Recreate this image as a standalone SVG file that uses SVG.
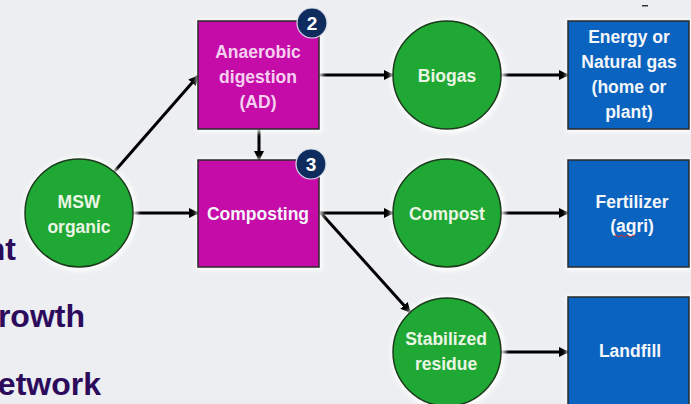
<svg xmlns="http://www.w3.org/2000/svg" width="691" height="404" viewBox="0 0 691 404">
<defs>
<marker id="ah" markerWidth="10" markerHeight="10" refX="9" refY="5" orient="auto" markerUnits="userSpaceOnUse">
<path d="M0,0 L10,5 L0,10 z" fill="#000"/>
</marker>
<filter id="glow" x="-20%" y="-20%" width="140%" height="140%">
<feGaussianBlur stdDeviation="2"/>
</filter>
</defs>
<style>
.halo{fill:#ffffff;stroke:#ffffff;stroke-width:5;opacity:0.85}
.box{stroke:#2a2a2a;stroke-width:1.5}
.mag{fill:#c50ca8}
.blue{fill:#0a63bf}
.green{fill:#1fa834;stroke:#1d3a1d;stroke-width:1.5}
.t{font-family:"Liberation Sans",Arial,sans-serif;font-weight:bold;font-size:17.5px;text-anchor:middle}
.wt{fill:#f4f6fa}
.pt{fill:#f6d0f0}
.gt{fill:#eaf5e4}
.badge{fill:#0f2c5e;stroke:#d8dce8;stroke-width:1.2}
.bt{font-family:"Liberation Sans",Arial,sans-serif;font-weight:bold;font-size:19px;fill:#ffffff;text-anchor:middle}
.side{font-family:"Liberation Sans",Arial,sans-serif;font-weight:bold;font-size:32px;fill:#2c0b5c;text-anchor:end}
.conn{stroke:#000;stroke-width:3;fill:none}
</style>
<rect width="691" height="404" fill="#eceef1"/>
<text class="side" x="16" y="260">nt</text>
<text class="side" x="85" y="327">rowth</text>
<text class="side" x="101" y="395">etwork</text>
<rect x="642" y="5" width="6" height="1.5" fill="#333"/>
<g id="connectors">
<line class="conn" x1="114" y1="172" x2="198" y2="76" marker-end="url(#ah)"/>
<line class="conn" x1="133" y1="213" x2="198" y2="213" marker-end="url(#ah)"/>
<line class="conn" x1="259" y1="129" x2="259" y2="160" marker-end="url(#ah)"/>
<line class="conn" x1="319" y1="75" x2="393" y2="75" marker-end="url(#ah)"/>
<line class="conn" x1="501" y1="75" x2="568" y2="75" marker-end="url(#ah)"/>
<line class="conn" x1="319" y1="213" x2="393" y2="213" marker-end="url(#ah)"/>
<line class="conn" x1="501" y1="213" x2="568" y2="213" marker-end="url(#ah)"/>
<line class="conn" x1="320" y1="212" x2="410" y2="312" marker-end="url(#ah)"/>
<line class="conn" x1="501" y1="352" x2="568" y2="352" marker-end="url(#ah)"/>
</g>
<g id="msw">
<circle class="halo" cx="80" cy="214" r="55" filter="url(#glow)"/>
<circle class="green" cx="79" cy="213" r="54"/>
<text class="t gt" x="79" y="208">MSW</text>
<text class="t gt" x="79" y="233">organic</text>
</g>
<g id="ad">
<rect class="halo" x="199" y="22" width="121" height="108" filter="url(#glow)"/>
<rect class="box mag" x="198" y="21" width="121" height="108"/>
<text class="t pt" x="258" y="58" font-size="18">Anaerobic</text>
<text class="t pt" x="258" y="83">digestion</text>
<text class="t pt" x="258" y="108">(AD)</text>
<circle class="badge" cx="312" cy="23" r="15"/>
<text class="bt" x="312" y="30">2</text>
</g>
<g id="composting">
<rect class="halo" x="199" y="161" width="121" height="107" filter="url(#glow)"/>
<rect class="box mag" x="198" y="160" width="121" height="107"/>
<text class="t wt" x="258" y="220">Composting</text>
<circle class="badge" cx="311" cy="164" r="15"/>
<text class="bt" x="311" y="171">3</text>
</g>
<g id="biogas">
<circle class="halo" cx="448" cy="76" r="55" filter="url(#glow)"/>
<circle class="green" cx="447" cy="75" r="54"/>
<text class="t gt" x="447" y="82">Biogas</text>
</g>
<g id="compost">
<circle class="halo" cx="448" cy="214" r="55" filter="url(#glow)"/>
<circle class="green" cx="447" cy="213" r="54"/>
<text class="t gt" x="447" y="220">Compost</text>
</g>
<g id="residue">
<circle class="halo" cx="448" cy="353" r="55" filter="url(#glow)"/>
<circle class="green" cx="447" cy="352" r="54"/>
<text class="t gt" x="446" y="345">Stabilized</text>
<text class="t gt" x="446" y="370">residue</text>
</g>
<g id="energy">
<rect class="halo" x="569" y="22" width="121" height="108" filter="url(#glow)"/>
<rect class="box blue" x="568" y="21" width="121" height="108"/>
<text class="t wt" x="629" y="43">Energy or</text>
<text class="t wt" x="629" y="68">Natural gas</text>
<text class="t wt" x="629" y="93">(home or</text>
<text class="t wt" x="629" y="118">plant)</text>
</g>
<g id="fertilizer">
<rect class="halo" x="569" y="161" width="121" height="107" filter="url(#glow)"/>
<rect class="box blue" x="568" y="160" width="121" height="107"/>
<text class="t wt" x="632" y="208">Fertilizer</text>
<text class="t wt" x="632" y="232">(agri)</text>
<path d="M614,236 q1.5,-2 3,0 t3,0 t3,0 t3,0 t3,0 t3,0 t3,0" fill="none" stroke="#e0301e" stroke-width="1"/>
</g>
<g id="landfill">
<rect class="halo" x="569" y="298" width="121" height="110" filter="url(#glow)"/>
<rect class="box blue" x="568" y="297" width="121" height="110"/>
<text class="t wt" x="630" y="357">Landfill</text>
</g>
</svg>
